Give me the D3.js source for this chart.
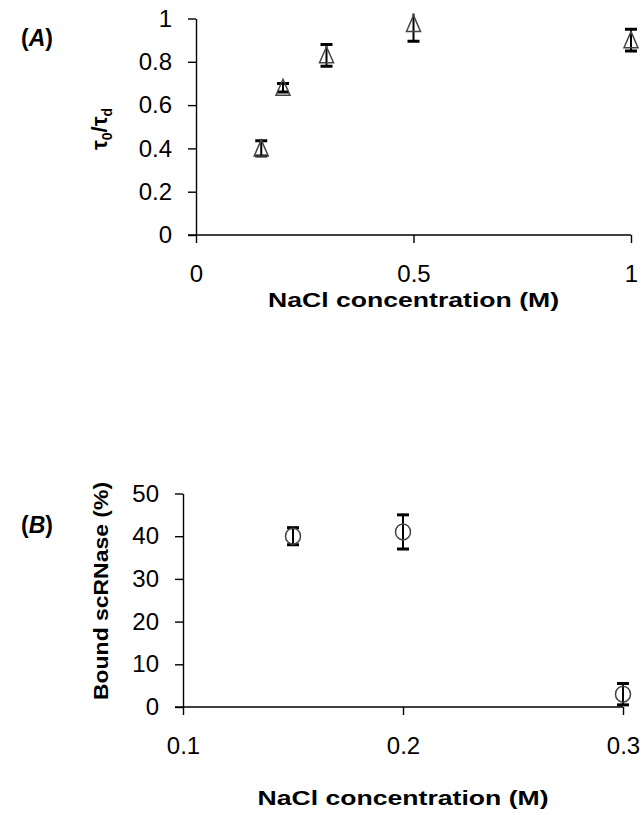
<!DOCTYPE html>
<html><head><meta charset="utf-8">
<script src="https://cdn.jsdelivr.net/npm/d3@7"></script>
<style>
html,body{margin:0;padding:0;background:#fff;}
svg{display:block;}
text{font-family:"Liberation Sans",Arial,sans-serif;fill:#000;}
</style></head>
<body>
<svg id="c" width="644" height="815"></svg>
<script>
// ---- data ----
const saltA = [0.15, 0.2, 0.3, 0.5, 1.0];
const ratioA = [0.40, 0.68, 0.83, 0.975, 0.90];
const errA = [0.035, 0.02, 0.05, 0.08, 0.05];
const ticksAx = [0, 0.5, 1];
const ticksAy = [0, 0.2, 0.4, 0.6, 0.8, 1];

const saltB = [0.15, 0.2, 0.3];
const boundB = [40, 41, 3];
const errB = [2, 4, 2.5];
const ticksBx = [0.1, 0.2, 0.3];
const ticksBy = [0, 10, 20, 30, 40, 50];

const svg = d3.select("#c");

function panel(o) {
  const g = svg.append("g");
  const x = d3.scaleLinear().domain(o.xd).range(o.xr);
  const y = d3.scaleLinear().domain(o.yd).range(o.yr);
  const fmt = d => String(d);

  const ax = g.append("g").attr("transform", `translate(0,${o.yr[0]})`)
    .call(d3.axisBottom(x).tickValues(o.xt).tickFormat(fmt).tickSizeInner(8).tickSizeOuter(0).tickPadding(22));
  const ay = g.append("g").attr("transform", `translate(${o.xr[0]},0)`)
    .call(d3.axisLeft(y).tickValues(o.yt).tickFormat(fmt).tickSizeInner(8).tickSizeOuter(0).tickPadding(16));
  [ax, ay].forEach(a => {
    a.selectAll("path.domain").attr("stroke", "#000").attr("stroke-width", 1.4);
    a.selectAll(".tick line").attr("stroke", "#000").attr("stroke-width", 1.4);
    a.selectAll(".tick text").attr("font-size", 24).attr("font-family", "Liberation Sans, Arial, sans-serif").attr("fill", "#000");
  });
  // extend x-axis line under the y tick at 0
  ax.select("path.domain").attr("d", `M${-8 + o.xr[0]},0H${o.xr[1]}`);

  const pts = o.xs.map((v, i) => ({x: v, y: o.ys[i], e: o.es[i]}));
  const clipId = "clip" + o.id;
  g.append("clipPath").attr("id", clipId).append("rect")
    .attr("x", o.xr[0] - 20).attr("y", o.yr[1] - 5)
    .attr("width", o.xr[1] - o.xr[0] + 40).attr("height", o.yr[0] - o.yr[1] + 5);

  const eb = g.append("g").attr("clip-path", `url(#${clipId})`);
  pts.forEach(p => {
    const cx = x(p.x), y1 = y(p.y + p.e), y2 = y(p.y - p.e);
    eb.append("line").attr("x1", cx).attr("x2", cx).attr("y1", y1).attr("y2", y2)
      .attr("stroke", "#000").attr("stroke-width", 2);
    [y1, y2].forEach(yy => eb.append("line").attr("x1", cx - 6).attr("x2", cx + 6)
      .attr("y1", yy).attr("y2", yy).attr("stroke", "#000").attr("stroke-width", 3));
  });

  const mk = g.append("g");
  pts.forEach(p => {
    if (o.marker === "tri") {
      const tri = {draw(ctx) { ctx.moveTo(0, -8.5); ctx.lineTo(7, 7.5); ctx.lineTo(-7, 7.5); ctx.closePath(); }};
      mk.append("path").attr("d", d3.symbol(tri)())
        .attr("transform", `translate(${x(p.x)},${y(p.y)})`)
        .attr("fill", "none").attr("stroke", "#444").attr("stroke-width", 1.5);
    } else {
      mk.append("ellipse").attr("cx", x(p.x)).attr("cy", y(p.y)).attr("rx", 7.5).attr("ry", 8)
        .attr("fill", "none").attr("stroke", "#444").attr("stroke-width", 1.5);
    }
  });

  // x title
  g.append("text").attr("x", (o.xr[0] + o.xr[1]) / 2).attr("y", o.xTitleY)
    .attr("text-anchor", "middle").attr("font-size", 21).attr("font-weight", "bold")
    .attr("textLength", 291).attr("lengthAdjust", "spacingAndGlyphs")
    .text("NaCl concentration (M)");
  return {g, x, y};
}

const A = panel({id: "A", xd: [0, 1], xr: [196, 631], yd: [0, 1], yr: [235, 18.5],
  xt: ticksAx, yt: ticksAy, xs: saltA, ys: ratioA, es: errA, marker: "tri", xTitleY: 307});
const B = panel({id: "B", xd: [0.1, 0.3], xr: [183, 623], yd: [0, 50], yr: [707, 493.5],
  xt: ticksBx, yt: ticksBy, xs: saltB, ys: boundB, es: errB, marker: "circ", xTitleY: 805});

// y titles
const tA = svg.append("text").attr("transform", "translate(107,129) rotate(-90)")
  .attr("text-anchor", "middle").attr("font-size", 22).attr("font-weight", "bold");
tA.append("tspan").text("τ");
tA.append("tspan").attr("font-size", 14).attr("dy", 5).text("0");
tA.append("tspan").attr("dy", -5).text("/τ");
tA.append("tspan").attr("font-size", 14).attr("dy", 5).text("d");

svg.append("text").attr("transform", "translate(108,591) rotate(-90)")
  .attr("text-anchor", "middle").attr("font-size", 21).attr("font-weight", "bold")
  .attr("textLength", 218).attr("lengthAdjust", "spacingAndGlyphs")
  .text("Bound scRNase (%)");

// panel labels
function plabel(letter, yb) {
  const t = svg.append("text").attr("x", 21).attr("y", yb).attr("font-size", 23).attr("font-weight", "bold");
  t.append("tspan").text("(");
  t.append("tspan").attr("font-style", "italic").text(letter);
  t.append("tspan").text(")");
}
plabel("A", 46);
plabel("B", 533);
</script>
</body></html>
